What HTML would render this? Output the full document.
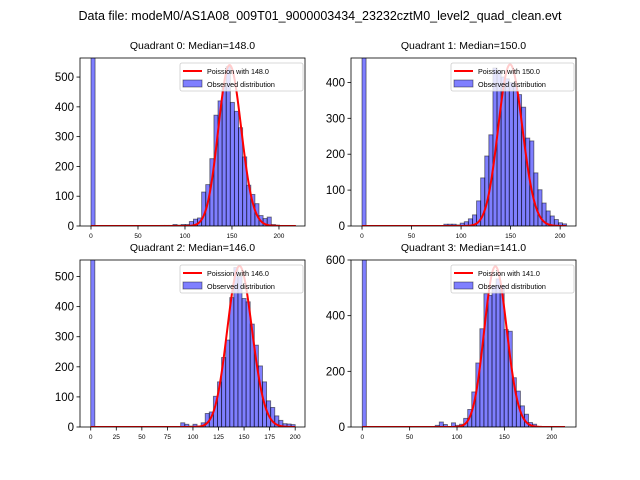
<!DOCTYPE html>
<html><head><meta charset="utf-8"><style>
html,body{margin:0;padding:0;background:#fff;}
svg{display:block;font-family:"Liberation Sans","DejaVu Sans",sans-serif;}
</style></head><body>
<svg id="fig" width="640" height="480" viewBox="0 0 640 480" xmlns="http://www.w3.org/2000/svg">
<rect width="640" height="480" fill="#fff"/>
<text x="320" y="20" text-anchor="middle" font-size="12.5" fill="#000">Data file: modeM0/AS1A08_009T01_9000003434_23232cztM0_level2_quad_clean.evt</text>
</svg>
<script>
// ---- data ----
const quadNames = ["Quadrant 0", "Quadrant 1", "Quadrant 2", "Quadrant 3"];
const medians = [148.0, 150.0, 146.0, 141.0];
const binWidths = [4.36, 4.13, 4.0, 4.28];
const curveMax = [218, 206, 200, 214];
const curvePeaks = [540, 450, 535, 577];
const counts0 = [5000,0,0,0,0,0,0,0,0,0, 0,0,0,0,0,0,0,2,2,2, 5,3,5,5,15,23,27,114,139,226, 372,420,470,535,415,385,330,232,137,106, 75,35,25,30,5,3,0,0,0,0];
const counts1 = [5000,0,0,0,0,0,0,0,0,0, 0,0,0,0,0,0,0,0,0,0, 5,5,5,3,8,12,20,31,70,134, 195,254,440,432,415,410,400,390,366,331, 245,237,148,101,64,42,28,18,9,6];
const counts2 = [5000,0,0,0,0,0,0,0,0,0, 0,0,0,0,0,0,0,1,1,0, 0,0,14,9,3,9,3,14,45,50, 102,150,231,289,430,530,500,427,416,342, 272,203,150,87,65,37,22,11,10,8];
const counts3 = [5000,0,0,0,0,0,0,0,0,0, 0,2,0,2,0,0,0,0,6,18, 9,0,15,6,10,31,63,126,230,353, 479,473,508,532,508,350,344,177,129,76, 46,16,10,0,0,0,0,0,0,0];
const xTicks0 = [0,50,100,150,200];
const xTicks1 = [0,50,100,150,200];
const xTicks2 = [0,25,50,75,100,125,150,175,200];
const xTicks3 = [0,50,100,150,200];
const yTicks0 = [0,100,200,300,400,500];
const yTicks1 = [0,100,200,300,400];
const yTicks2 = [0,100,200,300,400,500];
const yTicks3 = [0,200,400,600];
const xRanges = [[-11.7,227.7],[-11.1,216],[-10.5,209.6],[-11.9,225.6]];
const yMaxes = [564, 468, 555, 600];

const allCounts=[counts0,counts1,counts2,counts3];
const allXT=[xTicks0,xTicks1,xTicks2,xTicks3];
const allYT=[yTicks0,yTicks1,yTicks2,yTicks3];
const boxes=[[80,58,305,226],[351,58,576,226],[80,260,305,427],[351,260,576,427]];
const NS="http://www.w3.org/2000/svg";
const fig=document.getElementById('fig');
function mk(tag,attrs,parent){const e=document.createElementNS(NS,tag);for(const k in attrs)e.setAttribute(k,attrs[k]);(parent||fig).appendChild(e);return e;}
function lgamma(z){const g=7,c=[0.99999999999980993,676.5203681218851,-1259.1392167224028,771.32342877765313,-176.61502916214059,12.507343278686905,-0.13857109526572012,9.9843695780195716e-6,1.5056327351493116e-7];z-=1;let x=c[0];for(let i=1;i<g+2;i++)x+=c[i]/(z+i);const t=z+g+0.5;return 0.5*Math.log(2*Math.PI)+(z+0.5)*Math.log(t)-t+Math.log(x);}
function logpmf(k,mu){return k*Math.log(mu)-mu-lgamma(k+1);}

for(let q=0;q<4;q++){
  const [L,T,R,B]=boxes[q];
  const [x0,x1]=xRanges[q], ym=yMaxes[q];
  const sx=v=>L+(v-x0)/(x1-x0)*(R-L);
  const sy=v=>B-v/ym*(B-T);
  const g=mk('g',{});
  
  
  const clipId='clip'+q;
  const cp=mk('clipPath',{id:clipId},g);mk('rect',{x:L,y:T,width:R-L,height:B-T},cp);
  const t=mk('text',{x:(L+R)/2,y:T-9,'text-anchor':'middle','font-size':'10.5',fill:'#000'},g);
  t.textContent=quadNames[q]+': Median='+medians[q].toFixed(1);
  
  
  const bars=mk('g',{'clip-path':'url(#'+clipId+')'},g);
  const w=binWidths[q];
  allCounts[q].forEach((c,i)=>{
    if(c<=0)return;
    const xa=sx(i*w), xb=sx((i+1)*w), yt=sy(c);
    const r=mk('rect',{x:xa,y:yt,width:xb-xa,height:B-yt,fill:'rgba(0,0,255,0.5)',stroke:'rgba(0,0,0,0.5)','stroke-width':'0.9'},bars);
    
    
  });
  // poisson curve
  const mu=medians[q], peakLog=logpmf(Math.round(mu),mu);
  let d='';
  for(let k=0;k<=Math.floor(curveMax[q]);k++){
    const v=curvePeaks[q]*Math.exp(logpmf(k,mu)-peakLog);
    d+=(k?'L':'M')+sx(k).toFixed(2)+','+sy(v).toFixed(2);
  }
  const p=mk('path',{d:d,fill:'none',stroke:'#ff0000','stroke-width':'2','stroke-linejoin':'round'},bars);
  
  
  // frame
  const fr=mk('rect',{x:L,y:T,width:R-L,height:B-T,fill:'none',stroke:'#000','stroke-width':'0.8'},g);
  
  
  allXT[q].forEach(v=>{
    const x=sx(v);
    mk('line',{x1:x,y1:B,x2:x,y2:B+3.5,stroke:'#000','stroke-width':'0.8'},g);
    const tx=mk('text',{x:x,y:B+12,'text-anchor':'middle','font-size':'6.5',fill:'#000'},g);
    tx.textContent=v;
    
    
  });
  allYT[q].forEach(v=>{
    const y=sy(v);
    mk('line',{x1:L-3.5,y1:y,x2:L,y2:y,stroke:'#000','stroke-width':'0.8'},g);
    const ty=mk('text',{x:L-6,y:y+4,'text-anchor':'end','font-size':'11.5',fill:'#000'},g);
    ty.textContent=v;
    
    
  });
  // legend
  const lg=mk('g',{},g);
  
  
  const lx=R-125,ly=T+5;
  mk('rect',{x:lx,y:ly,width:123,height:28,rx:2,fill:'rgba(255,255,255,0.8)',stroke:'#ccc','stroke-width':'0.8'},lg);
  mk('line',{x1:lx+3,y1:ly+8,x2:lx+22,y2:ly+8,stroke:'#ff0000','stroke-width':'2'},lg);
  const t1=mk('text',{x:lx+27,y:ly+11,'font-size':'7.2',fill:'#000'},lg);
  t1.textContent='Poission with '+medians[q].toFixed(1);
  
  
  mk('rect',{x:lx+3,y:ly+17,width:19,height:7,fill:'rgba(0,0,255,0.5)',stroke:'rgba(0,0,0,0.5)','stroke-width':'0.8'},lg);
  const t2=mk('text',{x:lx+27,y:ly+24,'font-size':'7.2',fill:'#000'},lg);
  t2.textContent='Observed distribution';
  
  
}
</script>
</body></html>
